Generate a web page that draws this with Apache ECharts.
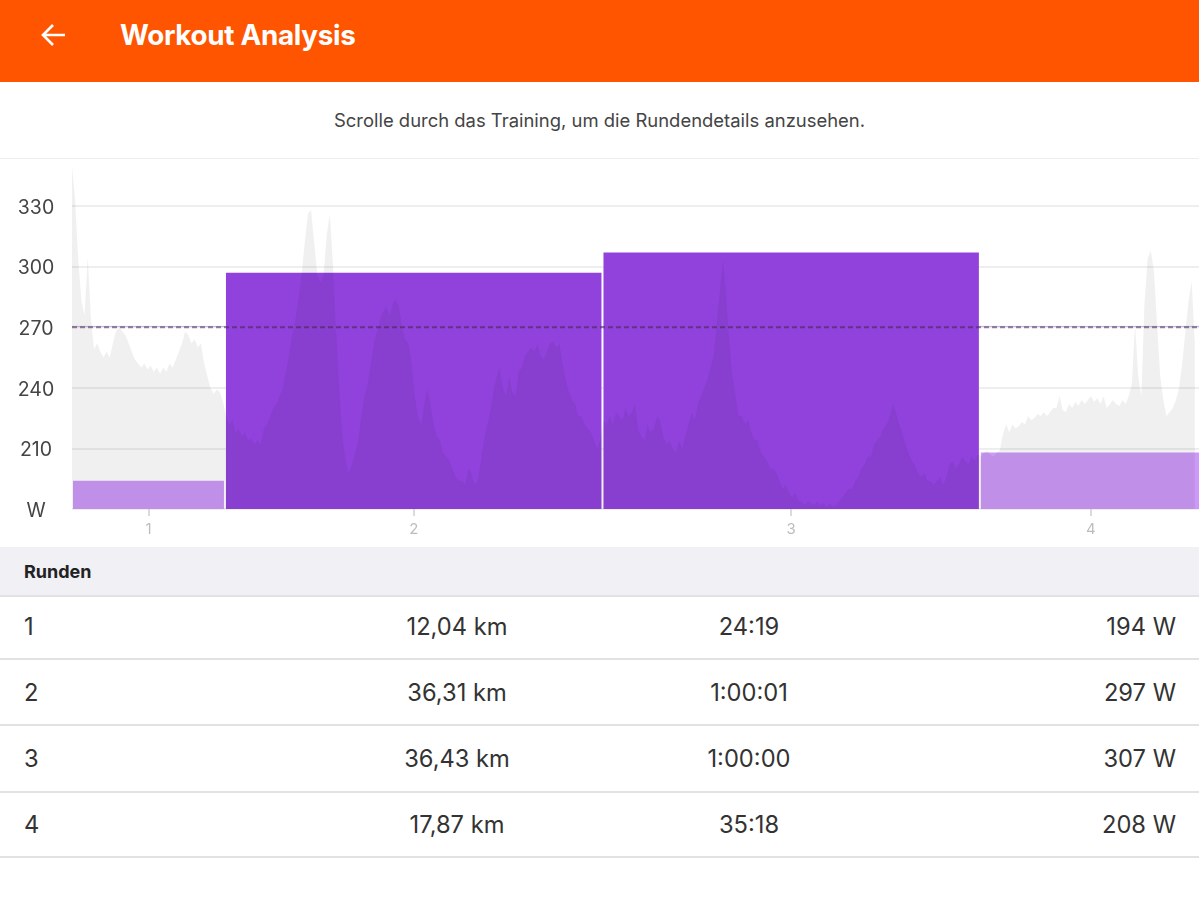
<!DOCTYPE html>
<html lang="de">
<head>
<meta charset="utf-8">
<title>Workout Analysis</title>
<script src="https://cdn.jsdelivr.net/npm/echarts@6/dist/echarts.min.js"></script>
<style>
    html, body { margin: 0; padding: 0; background: #fff; overflow: hidden; }
    body { width: 1199px; height: 915px; position: relative; font-family: Inter, "Noto Sans", sans-serif; color: #333; }
    #topBar { position: absolute; left: 0; top: 0; width: 100%; height: 82px; background: #ff5500; color: #fff; }
    #topBar svg { position: absolute; left: 40px; top: 22px; }
    #topBar h1 { position: absolute; left: 120px; top: 0; margin: 0; font-size: 27.8px; font-weight: 700; line-height: 71px; letter-spacing: -0.3px; }
    #hint { position: absolute; left: 0; top: 82px; width: 100%; height: 76px; line-height: 77px; text-align: center; font-size: 18.45px; color: #444; border-bottom: 2px solid #eee; box-sizing: content-box; }
    #chart { position: absolute; left: 0; top: 159px; width: 1199px; height: 388px; }
    #lapHead { position: absolute; left: 0; top: 547px; width: 100%; height: 48px; line-height: 50px; background: #f0f0f5; border-bottom: 2px solid #e2e2e2; font-size: 18px; font-weight: 700; color: #222; text-indent: 24px; }
    .lapRow { position: absolute; left: 0; width: 100%; height: 20px; font-size: 23.7px; line-height: 20px; color: #333; }
    .lapRow span { position: absolute; top: 0; white-space: nowrap; }
    .lapRule { position: absolute; left: 0; width: 100%; height: 2px; background: #e2e2e2; }
</style>
</head>
<body>
<div id="topBar">
    <svg width="28" height="28" viewBox="0 0 28 28"><path d="M25 13H4M13 3L3 13l10 10" fill="none" stroke="#fff" stroke-width="2.6"/></svg>
    <h1>Workout Analysis</h1>
</div>
<div id="hint">Scrolle durch das Training, um die Rundendetails anzusehen.</div>
<div id="chart"></div>
<div id="lapHead">Runden</div>
<div id="lapTable"></div>
<script>
    var lapNames = ['1', '2', '3', '4'];
    var lapDistances = ['12,04 km', '36,31 km', '36,43 km', '17,87 km'];
    var lapTimes = ['24:19', '1:00:01', '1:00:00', '35:18'];
    var lapWatts = [194, 297, 307, 208];
    var lapActive = [false, true, true, false];
    var avgWatts = 270;
    var yTicks = [180, 210, 240, 270, 300, 330];
    var sampleSec = 30;

    // one value per 30 s
    var powerSamples = [
        350, 333, 303, 283, 276, 305, 275, 259, 262, 258, 255, 258,
        255, 262, 268, 270, 268, 266, 262, 258, 254, 252, 250, 252,
        249, 251, 248, 250, 247, 250, 248, 252, 250, 254, 258, 262,
        268, 266, 262, 264, 260, 262, 252, 246, 240, 237, 239, 238,
        233, 226, 222, 224, 218, 220, 216, 218, 214, 215, 212, 214,
        212, 220, 222, 226, 230, 232, 236, 240, 248, 256, 266, 274,
        284, 296, 312, 326, 328, 312, 296, 292, 296, 316, 326, 300,
        268, 240, 216, 204, 198, 202, 208, 214, 226, 236, 242, 252,
        262, 268, 274, 278, 280, 276, 282, 284, 280, 270, 264, 262,
        252, 236, 226, 222, 232, 240, 232, 222, 216, 214, 208, 206,
        204, 200, 196, 194, 194, 192, 200, 198, 192, 194, 204, 214,
        222, 228, 238, 246, 250, 240, 236, 246, 238, 236, 248, 250,
        256, 258, 260, 258, 262, 256, 254, 258, 262, 263, 260, 262,
        252, 244, 238, 234, 232, 226, 226, 222, 220, 218, 214, 210,
        214, 224, 222, 226, 222, 228, 226, 224, 230, 226, 228, 232,
        220, 216, 214, 222, 218, 220, 226, 224, 216, 212, 214, 210,
        208, 214, 210, 216, 222, 228, 224, 232, 236, 240, 244, 250,
        256, 272, 288, 304, 286, 262, 246, 236, 226, 226, 222, 224,
        218, 214, 214, 208, 206, 204, 200, 200, 198, 194, 190, 192,
        188, 186, 188, 184, 184, 182, 184, 183, 182, 184, 182, 183,
        181, 183, 181, 182, 184, 186, 188, 190, 190, 194, 196, 200,
        202, 206, 206, 212, 214, 216, 220, 222, 226, 232, 228, 222,
        218, 212, 208, 204, 202, 198, 196, 198, 194, 194, 192, 194,
        196, 192, 196, 202, 204, 200, 202, 206, 204, 202, 206, 204,
        207, 206, 208, 209, 207, 206, 208, 209, 217, 222, 218, 222,
        220, 221, 223, 222, 226, 224, 225, 227, 226, 228, 226, 228,
        230, 230, 236, 229, 228, 232, 230, 233, 231, 234, 232, 234,
        236, 233, 235, 232, 236, 230, 232, 234, 232, 231, 234, 232,
        236, 242, 272, 246, 236, 282, 304, 308, 298, 272, 246, 234,
        226, 228, 230, 234, 240, 252, 268, 283, 293, 262
    ];

    // 1:00:01 -> 3601
    function toSeconds(str) {
        return str.split(':').reduce(function(sum, part) {
            return sum * 60 + parseInt(part, 10);
        }, 0);
    }

    var lapData = [];
    var lapCenters = [];
    var elapsed = 0;
    lapTimes.forEach(function(time, i) {
        var dur = toSeconds(time);
        lapData.push([elapsed, elapsed + dur, lapWatts[i], i]);
        lapCenters.push(elapsed + dur / 2);
        elapsed += dur;
    });

    var powerData = powerSamples.map(function(w, i) {
        return [i * sampleSec, w];
    });

    var xMax = 10750; // the last lap runs a little past the right edge

    function lapRect(api) {
        var from = api.coord([api.value(0), api.value(2)]);
        var to = api.coord([api.value(1), yTicks[0]]);
        return { x: from[0] + 1, y: from[1], width: to[0] - from[0] - 2, height: to[1] - from[1] };
    }

    var chart = echarts.init(document.getElementById('chart'));
    chart.setOption({
        animation: false,
        backgroundColor: '#fff',
        grid: { left: 72, right: 0, top: -13.6, bottom: 38, outerBoundsMode: 'none' },
        xAxis: {
            type: 'value',
            min: 0,
            max: xMax,
            splitLine: { show: false },
            axisLine: { show: false },
            axisTick: { show: true, customValues: lapCenters, length: 7, lineStyle: { color: '#cfcfcf', width: 1.5 } },
            axisLabel: {
                customValues: lapCenters,
                margin: 13,
                color: '#bdbdbd',
                fontSize: 15,
                fontFamily: 'Inter',
                formatter: function(value) {
                    return lapNames[lapCenters.indexOf(value)];
                }
            }
        },
        yAxis: {
            type: 'value',
            min: yTicks[0],
            max: 360,
            interval: 30,
            axisLine: { show: false },
            axisTick: { show: false },
            splitLine: { lineStyle: { color: '#e9e9e9', width: 1.5 } },
            axisLabel: {
                margin: 36,
                align: 'center',
                verticalAlign: 'top',
                lineHeight: 4,
                color: '#444',
                fontSize: 19.5,
                fontFamily: 'Inter',
                formatter: function(value) {
                    return value === yTicks[0] ? 'W' : value;
                }
            }
        },
        series: [{
            // white backing so the grid lines do not show through the bars
            name: 'backing',
            type: 'custom',
            z: 1,
            data: lapData,
            encode: { x: [0, 1], y: 2 },
            renderItem: function(params, api) {
                return { type: 'rect', shape: lapRect(api), style: { fill: '#fff' } };
            }
        }, {
            name: 'Leistung',
            type: 'line',
            z: 2,
            data: powerData,
            showSymbol: false,
            sampling: 'none',
            lineStyle: { width: 0 },
            areaStyle: { color: '#000', opacity: 0.06, origin: 'start' }
        }, {
            name: 'Runden',
            type: 'custom',
            z: 3,
            // multiply lets the grey profile show through the bars
            blendMode: 'multiply',
            data: lapData,
            encode: { x: [0, 1], y: 2 },
            renderItem: function(params, api) {
                return {
                    type: 'rect',
                    shape: lapRect(api),
                    style: { fill: lapActive[api.value(3)] ? '#9142dc' : '#cc99f8' }
                };
            }
        }, {
            name: 'avgSolid',
            type: 'line',
            z: 4,
            data: [[0, avgWatts + 0.4], [xMax, avgWatts + 0.4]],
            showSymbol: false,
            lineStyle: { color: 'rgba(145,66,220,0.4)', width: 1 }
        }, {
            name: 'avgDashed',
            type: 'line',
            z: 5,
            data: [[0, avgWatts], [xMax, avgWatts]],
            showSymbol: false,
            lineStyle: { color: 'rgba(60,40,70,0.55)', width: 2, type: [5, 3] }
        }]
    });

    // Rundentabelle
    var rowTops = [617, 683, 749, 815];
    var ruleTops = [658, 724, 791, 856];
    var html = '';
    lapNames.forEach(function(name, i) {
        html += '<div class="lapRow" style="top:' + rowTops[i] + 'px">' +
            '<span style="left:24px">' + name + '</span>' +
            '<span style="left:457px;transform:translateX(-50%)">' + lapDistances[i] + '</span>' +
            '<span style="left:749px;transform:translateX(-50%)">' + lapTimes[i] + '</span>' +
            '<span style="right:23px">' + lapWatts[i] + ' W</span>' +
            '</div>' +
            '<div class="lapRule" style="top:' + ruleTops[i] + 'px"></div>';
    });
    document.getElementById('lapTable').innerHTML = html;
</script>
</body>
</html>
